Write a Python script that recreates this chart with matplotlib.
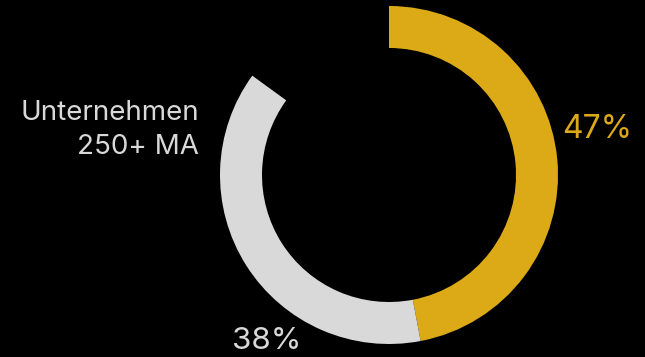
import matplotlib.pyplot as plt

plt.rcParams['font.family'] = ['Inter', 'DejaVu Sans']

labels = ['Unternehmen 250+ MA', 'Rest A', 'Rest B']
shares = [47, 38, 15]
colors = ['#DCA917', '#D9D9D9', 'none']
pct_labels = ['47%', '38%']

fig = plt.figure(figsize=(6.45, 3.57), dpi=100, facecolor='black')
ax = fig.add_axes([0, 0, 1, 1])
ax.set_facecolor('black')

# ring: gold share first, clockwise from the top
ax.pie(shares, colors=colors, startangle=90, counterclock=False,
       center=(389, 182), radius=169,
       wedgeprops=dict(width=42, linewidth=0), frame=True)
ax.set_xlim(0, 645)
ax.set_ylim(0, 357)
ax.set_aspect('equal')
ax.axis('off')

ax.text(597, 227, pct_labels[0], color=colors[0], fontsize=23,
        ha='center', va='center')
ax.text(267, 16, pct_labels[1], color=colors[1], fontsize=22.5,
        ha='center', va='center')
ax.text(199, 227, 'Unternehmen\n250+ MA', color='#D9D9D9', fontsize=20,
        ha='right', va='center', linespacing=1.45)

fig.savefig('out.png', dpi=100, facecolor='black')
